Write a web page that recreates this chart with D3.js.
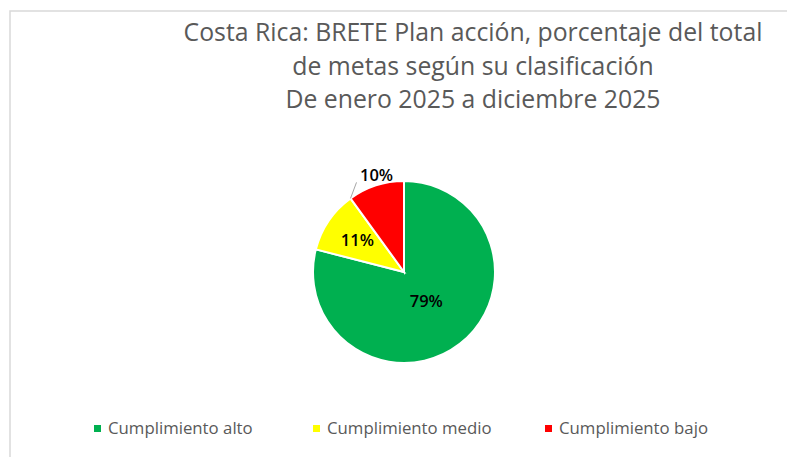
<!DOCTYPE html>
<html>
<head>
<meta charset="utf-8">
<script src="https://cdn.jsdelivr.net/npm/d3@7"></script>
<style>
  body { margin: 0; background: #fff; }
  text { font-family: "Open Sans", sans-serif; }
</style>
</head>
<body>
<div id="chart"></div>
<script>
// data
var categories = ["Cumplimiento alto", "Cumplimiento medio", "Cumplimiento bajo"];
var values = [79, 11, 10];
var colors = ["#00B050", "#FFFF00", "#FF0000"];
var titleLines = ["Costa Rica: BRETE Plan acción, porcentaje del total",
                  "de metas según su clasificación",
                  "De enero 2025 a diciembre 2025"];

var width = 787, height = 457;

var svg = d3.select("#chart")
  .append("svg")
    .attr("width", width)
    .attr("height", height);

// chart border (runs off right and bottom)
svg.append("rect")
    .attr("x", 10).attr("y", 11)
    .attr("width", width).attr("height", height)
    .style("fill", "none")
    .style("stroke", "#d9d9d9")
    .style("stroke-width", 1.5);

// title
svg.append("g").selectAll("text")
    .data(titleLines)
    .enter()
    .append("text")
      .attr("x", 473)
      .attr("y", function(d, i) { return 41 + i * 33.5; })
      .attr("text-anchor", "middle")
      .style("font-size", "24.8px")
      .style("fill", "#595959")
      .text(function(d) { return d; });

// pie
var cx = 404, cy = 272, r = 91;
var pie = d3.pie().sort(null).value(function(d) { return d; });
var arcs = pie(values);
var arc = d3.arc().innerRadius(0).outerRadius(r);

var g = svg.append("g").attr("transform", "translate(" + cx + "," + cy + ")");

g.selectAll("path")
    .data(arcs)
    .enter()
    .append("path")
      .attr("d", arc)
      .style("fill", function(d, i) { return colors[i]; })
      .style("stroke", "#fff")
      .style("stroke-width", 2);

// data labels (radius factor per slice, last one outside)
var labelR = [0.4, 0.62, 1.12];
g.selectAll("text.lbl")
    .data(arcs)
    .enter()
    .append("text")
      .attr("class", "lbl")
      .attr("transform", function(d, i) {
        var p = d3.arc().innerRadius(r * labelR[i]).outerRadius(r * labelR[i]).centroid(d);
        if (i === 2) { p[0] += 4; }
        return "translate(" + p[0] + "," + p[1] + ")";
      })
      .attr("text-anchor", "middle")
      .attr("dy", "0.35em")
      .style("font-size", "16.5px")
      .style("font-weight", "600")
      .style("fill", "#000")
      .text(function(d) { return d.data + "%"; });

// leader line for the small slice
var a = arcs[2].startAngle;
g.append("line")
    .attr("x1", Math.sin(a) * r)
    .attr("y1", -Math.cos(a) * r)
    .attr("x2", Math.sin(a) * r + 6)
    .attr("y2", -Math.cos(a) * r - 16)
    .style("stroke", "#a6a6a6")
    .style("stroke-width", 1);

// legend
var legendX = [97, 316, 548];
var legend = svg.append("g").selectAll("g")
    .data(categories)
    .enter()
    .append("g")
      .attr("transform", function(d, i) { return "translate(" + legendX[i] + ",428)"; });

legend.append("rect")
    .attr("x", -3).attr("y", -3)
    .attr("width", 7).attr("height", 7)
    .style("fill", function(d, i) { return colors[i]; });

legend.append("text")
    .attr("x", 11)
    .attr("dy", "0.35em")
    .style("font-size", "16.8px")
    .style("fill", "#595959")
    .text(function(d) { return d; });
</script>
</body>
</html>
